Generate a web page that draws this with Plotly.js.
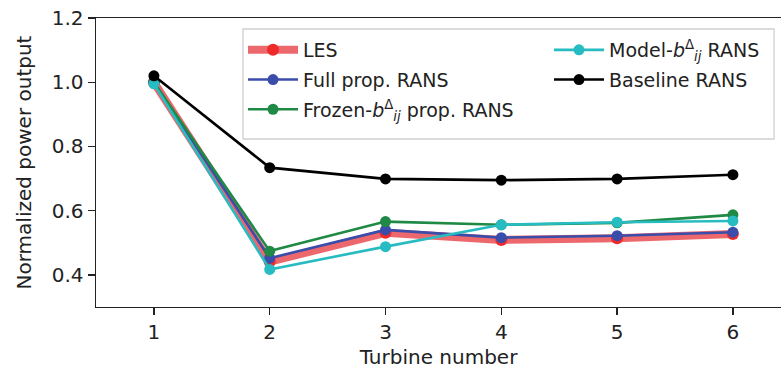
<!DOCTYPE html>
<html>
<head>
<meta charset="utf-8">
<script src="https://cdn.plot.ly/plotly-3.0.1.min.js"></script>
<style>html,body{margin:0;padding:0;background:#fff;}#chart{width:781px;height:374px;}</style>
</head>
<body>
<div id="chart"></div>
<script>
var turbines = [1, 2, 3, 4, 5, 6];
var les      = [1.00, 0.441, 0.531, 0.509, 0.514, 0.527];
var fullProp = [1.00, 0.452, 0.540, 0.516, 0.522, 0.533];
var frozen   = [1.00, 0.474, 0.566, 0.556, 0.562, 0.587];
var model    = [0.995, 0.417, 0.488, 0.556, 0.564, 0.568];
var baseline = [1.02, 0.734, 0.699, 0.695, 0.699, 0.712];
var names = ['LES', 'Full prop. RANS', 'Frozen-<i>b</i><sup>Δ</sup><sub><i>ij</i></sub> prop. RANS',
             'Model-<i>b</i><sup>Δ</sup><sub><i>ij</i></sub> RANS', 'Baseline RANS'];
var xTicks = [1, 2, 3, 4, 5, 6];
var yTicks = [0.4, 0.6, 0.8, 1.0, 1.2];

var F = 'DejaVu Sans, sans-serif';
function tr(y, name, lineColor, markerColor, lw, ms, leg, grp) {
  return {x: turbines, y: y, name: name, type: 'scatter', mode: 'lines+markers',
    line: {color: lineColor, width: lw}, marker: {color: markerColor, size: ms},
    legend: leg, legendgroup: grp, hoverinfo: 'skip'};
}
var data = [
  tr(les, names[0], 'rgba(232,62,66,0.78)', '#ee2a2a', 8, 12, 'legend', 'a'),
  tr(fullProp, names[1], '#3a4dab', '#3a4dab', 2.6, 11, 'legend', 'b'),
  tr(frozen, names[2], '#1e8a45', '#1e8a45', 2.6, 11, 'legend', 'c'),
  tr(model, names[3], '#27bcc2', '#27bcc2', 2.6, 11, 'legend2', 'd'),
  tr(baseline, names[4], '#000000', '#000000', 2.6, 11, 'legend2', 'e')
];
var W = 781, H = 374, ml = 96, mr = 0, mt = 18, mb = 67;
var pw = W - ml - mr, ph = H - mt - mb;
function px(x) { return (x - ml) / pw; }
function py(y) { return (H - mb - y) / ph; }
var legFont = {size: 19, family: F, color: '#222'};
var layout = {
  width: W, height: H,
  margin: {l: ml, r: mr, t: mt, b: mb, pad: 0},
  paper_bgcolor: '#fff', plot_bgcolor: '#fff',
  font: {family: F, size: 20, color: '#222'},
  xaxis: {range: [0.5, 0.5 + pw / 115.8], tickvals: xTicks, ticktext: xTicks.map(String),
    showline: true, linecolor: '#222', linewidth: 1.4, mirror: true,
    ticks: 'outside', ticklen: 7, tickwidth: 1.4, tickcolor: '#222',
    showgrid: false, zeroline: false,
    title: {text: 'Turbine number', font: {size: 20, family: F, color: '#222'}, standoff: 6}},
  yaxis: {range: [0.3, 1.2], tickvals: yTicks, ticktext: yTicks.map(function(v){return v.toFixed(1);}),
    showline: true, linecolor: '#222', linewidth: 1.4, mirror: false,
    ticks: 'outside', ticklen: 7, tickwidth: 1.4, tickcolor: '#222',
    showgrid: false, zeroline: false,
    title: {text: 'Normalized power output', font: {size: 20, family: F, color: '#222'}, standoff: 14}},
  showlegend: true,
  legend: {x: px(243), y: py(31), xanchor: 'left', yanchor: 'top', bgcolor: 'rgba(0,0,0,0)',
    borderwidth: 0, font: legFont, itemwidth: 50, tracegroupgap: 2},
  legend2: {x: px(549), y: py(31), xanchor: 'left', yanchor: 'top', bgcolor: 'rgba(0,0,0,0)',
    borderwidth: 0, font: legFont, itemwidth: 50, tracegroupgap: 2},
  shapes: [{type: 'rect', xref: 'paper', yref: 'paper', x0: px(243), x1: px(774), y0: py(139), y1: py(29),
    fillcolor: 'rgba(255,255,255,0.85)', line: {color: '#d0d0d0', width: 1.3}, layer: 'above'}]
};
Plotly.newPlot('chart', data, layout, {staticPlot: true});
</script>
</body>
</html>
